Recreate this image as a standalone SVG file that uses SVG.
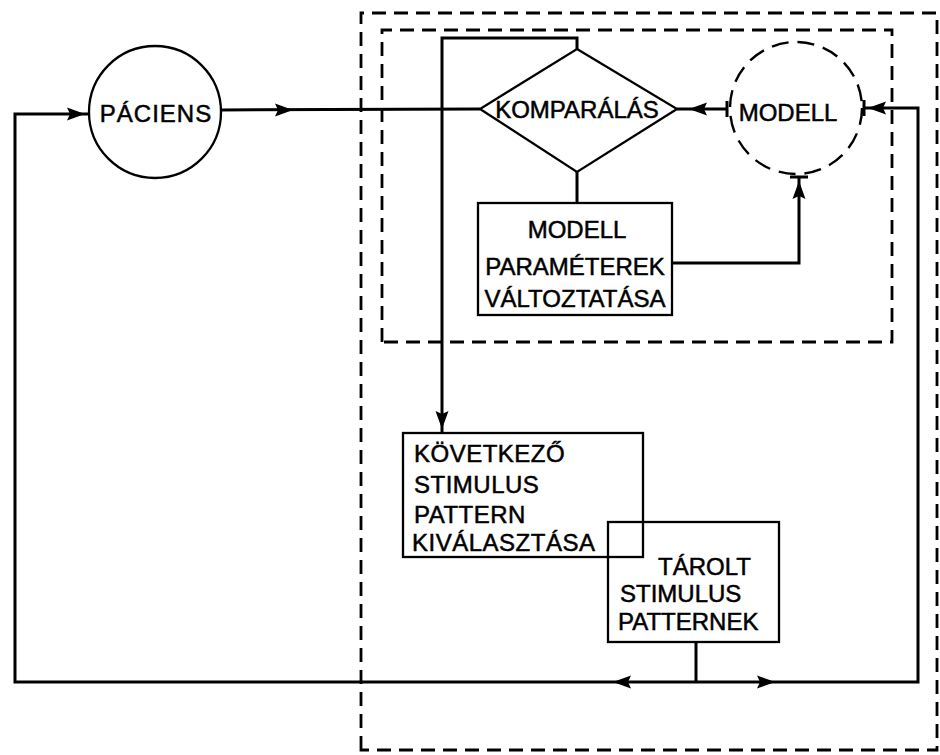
<svg xmlns="http://www.w3.org/2000/svg" width="940" height="755" viewBox="0 0 940 755">
<style>
  .bg{fill:#ffffff}
  .ln{fill:none;stroke:#000;stroke-width:3;stroke-linejoin:miter}
  .box{fill:none;stroke:#000;stroke-width:2.3}
  .dash{fill:none;stroke:#000;stroke-width:2.8;stroke-dasharray:14 8}
  .dashc{fill:none;stroke:#000;stroke-width:2.4;stroke-dasharray:17 9}
  .txt{font-family:"Liberation Sans",Arial,sans-serif;font-size:24px;fill:#000;stroke:#000;stroke-width:0.5}
  .ah{fill:#000}
</style>
<defs>
  <path id="arrow" class="ah" d="M1,0 L-17,-6.5 L-14,0 L-17,6.5 Z"/>
</defs>
<rect class="bg" x="0" y="0" width="940" height="755"/>

<!-- system boundaries -->
<g id="outer-boundary">
  <path class="dash" d="M361,750 L361,13 L937,13 L937,750 Z"/>
</g>
<g id="inner-boundary">
  <path class="dash" d="M382,342 L382,30 L892,30 L892,342 Z"/>
</g>

<!-- connectors -->
<g id="connectors">
  <path class="ln" d="M220,110 L480,109"/>
  <path class="ln" d="M89,114 L15,114 L15,682 L918,682 L918,108 L864,108"/>
  <path class="ln" d="M864,100 L864,116"/>
  <path class="ln" d="M677,109 L727,109"/>
  <path class="ln" d="M727,101 L727,117"/>
  <path class="ln" d="M577,49 L577,38 L442,38 L442,433"/>
  <path class="ln" d="M577,172 L577,203"/>
  <path class="ln" d="M672,263 L799,263 L799,177"/>
  <path class="ln" d="M790,177 L808,177"/>
  <path class="ln" d="M696,642 L696,682"/>
  <use href="#arrow" transform="translate(84,114)"/>
  <use href="#arrow" transform="translate(292,110)"/>
  <use href="#arrow" transform="translate(690,109) rotate(180)"/>
  <use href="#arrow" transform="translate(869,108) rotate(180)"/>
  <use href="#arrow" transform="translate(799,182) rotate(-90)"/>
  <use href="#arrow" transform="translate(442,428) rotate(90)"/>
  <use href="#arrow" transform="translate(614,682) rotate(180)"/>
  <use href="#arrow" transform="translate(774,682)"/>
</g>

<!-- nodes -->
<g id="paciens">
  <circle class="box" cx="155" cy="112" r="66"/>
  <text class="txt" x="156" y="122" text-anchor="middle" letter-spacing="1">PÁCIENS</text>
</g>

<g id="komparalas">
  <path class="box" d="M577,49 L677,109 L577,172 L480,109 Z"/>
  <text class="txt" x="577" y="118" text-anchor="middle" font-size="22.5">KOMPARÁLÁS</text>
</g>

<g id="modell">
  <circle class="dashc" cx="796" cy="108" r="66"/>
  <text class="txt" x="788" y="121" text-anchor="middle" font-size="23">MODELL</text>
</g>

<g id="modell-parameterek">
  <rect class="box" x="478" y="203" width="194" height="112"/>
  <text class="txt" x="577" y="238" text-anchor="middle">MODELL</text>
  <text class="txt" x="575" y="275" text-anchor="middle">PARAMÉTEREK</text>
  <text class="txt" x="575" y="307" text-anchor="middle">VÁLTOZTATÁSA</text>
</g>

<g id="kovetkezo">
  <rect class="box" x="403" y="433" width="240" height="124"/>
  <text class="txt" x="414" y="462" letter-spacing="0.5">KÖVETKEZŐ</text>
  <text class="txt" x="414" y="493" letter-spacing="0.5">STIMULUS</text>
  <text class="txt" x="414" y="523" letter-spacing="0.5">PATTERN</text>
  <text class="txt" x="412" y="551" letter-spacing="0.5">KIVÁLASZTÁSA</text>
</g>

<g id="tarolt">
  <rect class="box" x="608" y="522" width="171" height="120"/>
  <text class="txt" x="658" y="575">TÁROLT</text>
  <text class="txt" x="620" y="602">STIMULUS</text>
  <text class="txt" x="618" y="630">PATTERNEK</text>
</g>
</svg>
